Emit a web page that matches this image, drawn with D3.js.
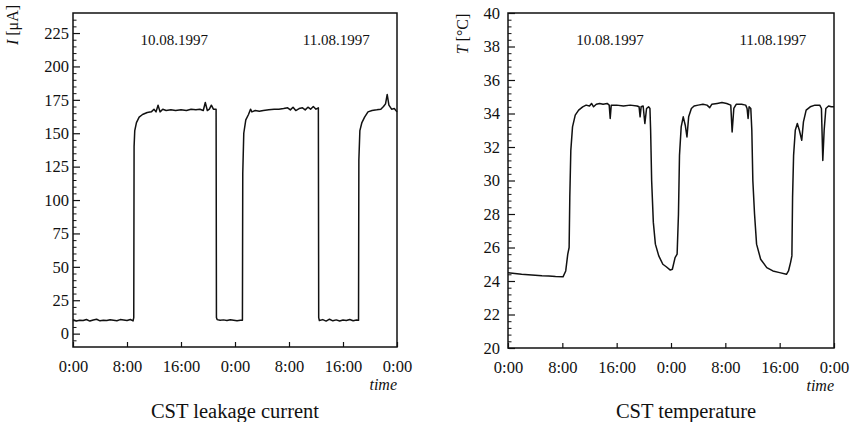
<!DOCTYPE html>
<html>
<head>
<meta charset="utf-8">
<script src="https://cdn.jsdelivr.net/npm/d3@7"></script>
<style>
  body { margin: 0; background: #fff; }
  svg text { font-family: "Liberation Serif", "DejaVu Serif", serif; fill: #111; }
</style>
</head>
<body>
<svg id="chart" width="857" height="422"></svg>
<script>
// ---- data (hours since 10.08.1997 0:00) ----
const currentHours = [0,0.5,1,1.5,2,2.5,3,3.5,4,4.5,5,5.5,6,6.5,7,7.5,8,8.5,8.9,9.0,9.05,9.15,9.4,9.8,10.3,11,11.6,12.0,12.3,12.6,12.9,13.3,13.8,14.5,15.2,16,16.8,17.5,18.2,18.8,19.3,19.6,19.9,20.2,20.5,20.8,21.2,21.25,21.35,21.8,22.3,22.8,23.3,23.8,24.3,24.8,25.1,25.15,25.3,25.6,26.0,26.3,26.5,27.0,27.6,28.2,29,29.8,30.5,31.2,31.8,32.2,32.6,33,33.5,34,34.4,34.8,35.2,35.6,36,36.35,36.4,36.5,37,37.5,38,38.5,39,39.5,40,40.5,41,41.5,42,42.3,42.35,42.5,42.8,43.2,43.7,44.3,45,45.6,46.0,46.3,46.55,46.8,47.2,47.6,48];
const currentValues = [10.5,9.5,10,9.8,10.6,9.4,10.2,10.8,9.6,10.1,9.8,10.4,10,9.6,10.5,10.2,9.8,10.6,9.5,12,140,152,158,162,164,165.5,166,168,166,171,166,168,167,167.5,167,167.5,167,168,167.5,168,167,173,167,168,171,168,168,12,10.5,10,10.3,9.8,10.4,10,9.6,10,10,120,150,160,164,168,166,167,166.5,167,167.5,168,168,168.5,169,167.5,169.5,167,168.5,169,167.5,169.5,168,170,168,169,12,9.8,10.5,9.4,10.8,9.6,10.3,9.5,10.2,9.8,10.6,9.7,10.2,10,130,152,158,162,166,167,167.5,168,170,172,179,171,168,168.5,166];

const tempHours = [0,1,2,3,4,5,6,7,8.1,8.5,8.8,9.0,9.1,9.25,9.5,9.9,10.4,11.0,11.5,12.0,12.3,12.6,13,13.5,14,14.6,14.9,15.05,15.2,16,17,18,19,19.3,19.45,19.6,19.9,20.15,20.4,20.7,20.9,21.0,21.15,21.4,21.7,22.2,22.8,23.3,23.9,24.2,24.6,24.9,25.1,25.25,25.5,25.8,26.1,26.35,26.6,27.0,27.4,28,28.7,29.3,29.7,30,30.8,31.5,32.2,32.8,33.0,33.25,33.6,34.4,35.0,35.2,35.35,35.5,35.75,35.9,36.05,36.3,36.6,37.2,38.1,39,40,41,41.3,41.6,41.8,41.9,42.05,42.3,42.6,42.9,43.25,43.5,43.9,44.5,45.2,45.9,46.15,46.35,46.55,46.8,47.2,47.6,48];
const tempValues = [24.5,24.45,24.4,24.38,24.35,24.32,24.3,24.27,24.25,24.6,25.6,26,29,31.8,33.2,33.9,34.2,34.4,34.5,34.45,34.6,34.4,34.55,34.6,34.55,34.6,34.5,33.7,34.5,34.5,34.45,34.5,34.45,34.4,33.8,34.4,34.45,33.4,34.3,34.4,34.3,33,30,27.5,26.2,25.5,25.0,24.85,24.65,24.7,25.4,25.6,28,31.5,33.2,33.8,33.3,32.6,33.8,34.3,34.45,34.5,34.55,34.5,34.35,34.55,34.6,34.65,34.6,34.5,32.9,34.3,34.55,34.55,34.5,34.3,33.7,34.4,34.3,33,30,28,26.2,25.3,24.8,24.6,24.5,24.4,24.6,25.1,25.5,29,31.5,33.0,33.4,33.0,32.4,33.5,34.2,34.4,34.5,34.5,34.3,31.2,33.0,34.3,34.45,34.4,34.4];

const timeTicks = [0, 8, 16, 24, 32, 40, 48];
const timeLabels = ["0:00", "8:00", "16:00", "0:00", "8:00", "16:00", "0:00"];
const dateLabels = ["10.08.1997", "11.08.1997"];
const dateHours = [15, 39];

const currentTicks = [0, 25, 50, 75, 100, 125, 150, 175, 200, 225];
const tempTicks = [20, 22, 24, 26, 28, 30, 32, 34, 36, 38, 40];

const svg = d3.select("#chart");
const ink = "#111";
const serif = '"Liberation Serif", "DejaVu Serif", serif';

function styleLabels(sel, size) {
  sel.selectAll("text")
    .style("font-family", serif)
    .style("font-size", size + "px")
    .style("fill", ink);
}

function panel(opts) {
  const x = d3.scaleLinear().domain([0, 48]).range([opts.left, opts.right]);
  const y = d3.scaleLinear().domain(opts.yDomain).range([opts.bottom, opts.top]);
  const g = svg.append("g");

  // minor y ticks
  g.append("g")
    .attr("transform", `translate(${opts.left},0)`)
    .call(d3.axisLeft(y).tickValues(opts.minor).tickSize(-3.5).tickFormat(""))
    .call(a => a.select(".domain").remove())
    .selectAll("line").attr("stroke", ink);

  // major y ticks + labels
  g.append("g")
    .attr("transform", `translate(${opts.left},0)`)
    .call(d3.axisLeft(y).tickValues(opts.major).tickSize(-7).tickPadding(opts.yPad).tickFormat(d3.format("d")))
    .call(a => a.select(".domain").remove())
    .call(a => a.selectAll("line").attr("stroke", ink).attr("stroke-width", 1.2))
    .call(a => styleLabels(a, 16.5));

  // x ticks
  g.append("g")
    .attr("transform", `translate(0,${opts.bottom})`)
    .call(d3.axisBottom(x).tickValues(timeTicks).tickSize(-5).tickPadding(13).tickFormat((d, i) => timeLabels[i]))
    .call(a => a.select(".domain").remove())
    .call(a => a.selectAll("line").attr("stroke", ink).attr("stroke-width", 1.2))
    .call(a => styleLabels(a, 16.5));

  // frame
  g.append("rect")
    .attr("x", opts.left).attr("y", opts.top)
    .attr("width", opts.right - opts.left).attr("height", opts.bottom - opts.top)
    .attr("fill", "none").attr("stroke", ink).attr("stroke-width", 1.5);

  // series
  const pts = opts.hours.map((h, i) => [h, opts.values[i]]);
  g.append("path")
    .datum(pts)
    .attr("fill", "none").attr("stroke", ink).attr("stroke-width", 1.5)
    .attr("stroke-linejoin", "round")
    .attr("d", d3.line().x(d => x(d[0])).y(d => y(d[1])));

  // date labels
  dateLabels.forEach((t, i) => {
    g.append("text")
      .attr("x", x(dateHours[i])).attr("y", opts.top + 32)
      .attr("text-anchor", "middle").style("font-size", "15px")
      .text(t);
  });

  // "time"
  g.append("text")
    .attr("x", opts.right).attr("y", opts.bottom + 43)
    .attr("text-anchor", "end").style("font-size", "16px").style("font-style", "italic")
    .text("time");

  // title
  g.append("text")
    .attr("x", opts.titleX).attr("y", 418)
    .attr("text-anchor", "middle").style("font-size", "20.5px")
    .text(opts.title);

  // y label
  const yl = g.append("text")
    .attr("transform", `translate(${opts.ylabelX},${opts.ylabelY}) rotate(-90)`)
    .attr("text-anchor", "middle").style("font-size", "16px");
  yl.append("tspan").style("font-style", "italic").text(opts.ylabel[0]);
  yl.append("tspan").text(opts.ylabel[1]);
}

panel({
  left: 73, right: 397, top: 13, bottom: 347,
  yDomain: [-10, 240],
  major: currentTicks,
  minor: d3.range(-5, 240, 5).filter(v => v % 25 !== 0),
  yPad: 4,
  hours: currentHours, values: currentValues,
  title: "CST leakage current", titleX: 235,
  ylabel: ["I", " [μA]"], ylabelX: 18, ylabelY: 25
});

panel({
  left: 508, right: 834, top: 13, bottom: 348,
  yDomain: [20, 40],
  major: tempTicks,
  minor: d3.range(20, 40, 0.4).map(v => +v.toFixed(1)).filter(v => Math.abs(v / 2 - Math.round(v / 2)) > 1e-6),
  yPad: 8,
  hours: tempHours, values: tempValues,
  title: "CST temperature", titleX: 686,
  ylabel: ["T", " [°C]"], ylabelX: 468, ylabelY: 34
});
</script>
</body>
</html>
